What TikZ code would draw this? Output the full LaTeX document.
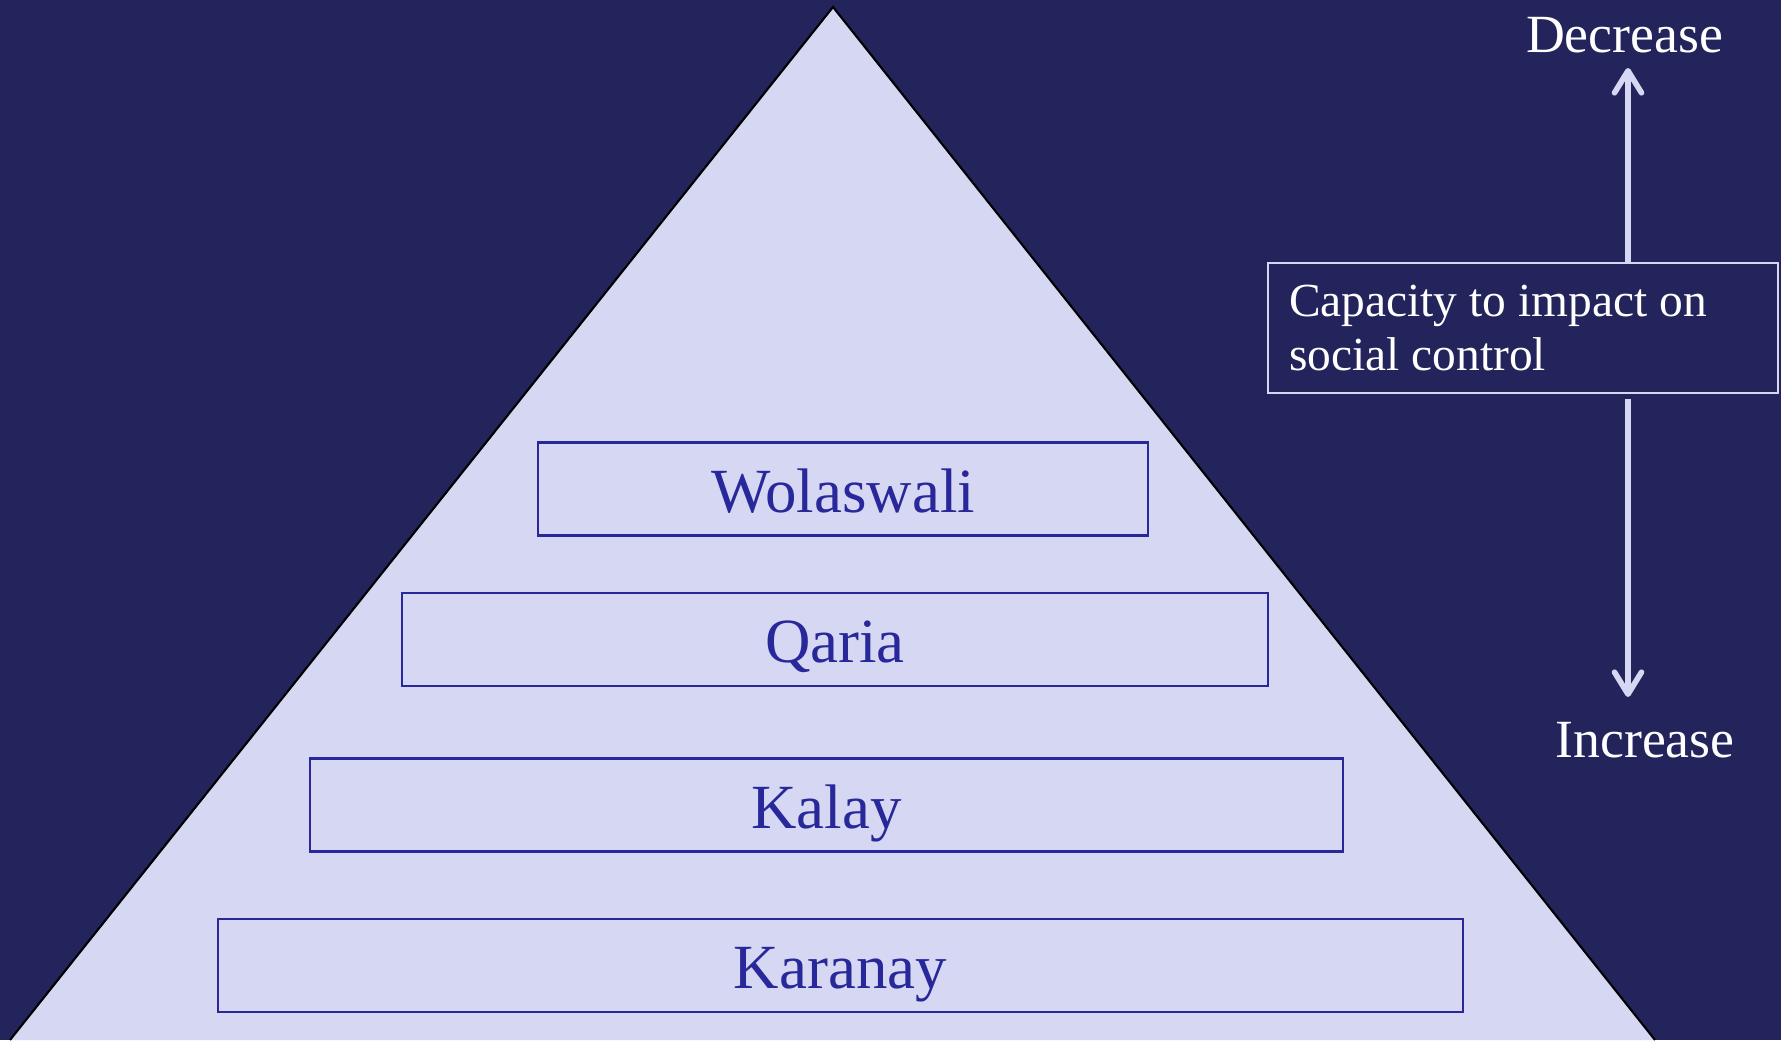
\documentclass[tikz,border=0pt]{standalone}
\usepackage{fontspec}
\setmainfont{Liberation Serif}
\usetikzlibrary{arrows.meta,positioning}
\definecolor{navy}{RGB}{36,36,92}
\definecolor{lavender}{RGB}{214,216,243}
\definecolor{tierblue}{RGB}{40,40,155}
\tikzstyle{tier} = [draw=tierblue, line width=0.6pt, rectangle, inner sep=0pt, minimum height=0.93cm, text height=0.46cm, text depth=0cm, text=tierblue, font=\fontsize{17.9pt}{20pt}\selectfont]
\tikzstyle{sidebox} = [draw=lavender, line width=0.6pt, rectangle, inner xsep=0.21cm, inner ysep=0pt, text width=4.68cm, minimum height=1.30cm, align=flush left, text=white, font=\fontsize{13.5pt}{15.4pt}\selectfont]
\tikzstyle{sidetext} = [text=white, inner sep=0pt, anchor=base, font=\fontsize{15.3pt}{18pt}\selectfont]
\tikzstyle{scalearrow} = [draw=lavender, line width=1.6pt, -{Straight Barb[length=0.22cm, width=0.27cm, round]}]

\begin{document}
\begin{tikzpicture}
    % Background and pyramid
    \fill[navy] (0,0) rectangle (17.81,-10.40);
    \fill[lavender] (8.33,-0.07) -- (0.10,-10.40) -- (16.55,-10.40) -- cycle;
    \draw[black, line width=0.6pt] (0.10,-10.40) -- (8.33,-0.07) -- (16.55,-10.40);

    % Tiers
    \node [tier, minimum width=6.10cm] (wolaswali) at (8.43,-4.89) {Wolaswali};
    \node [tier, minimum width=8.66cm] (qaria) at (8.35,-6.395) {Qaria};
    \node [tier, minimum width=10.33cm] (kalay) at (8.265,-8.05) {Kalay};
    \node [tier, minimum width=12.45cm] (karanay) at (8.405,-9.655) {Karanay};

    % Scale
    \node [sidebox] (capacity) at (15.23,-3.28) {Capacity to impact on\\social control};
    \node [sidetext] (decrease) at (16.245,-0.53) {Decrease};
    \node [sidetext] (increase) at (16.45,-7.57) {Increase};
    \coordinate (uptip) at (16.28,-0.68);
    \coordinate (downtip) at (16.28,-6.97);

    % Connections
    \draw [scalearrow] (capacity.north -| uptip) -- (uptip);
    \draw [scalearrow] ([yshift=-0.05cm]capacity.south -| downtip) -- (downtip);
\end{tikzpicture}
\end{document}
